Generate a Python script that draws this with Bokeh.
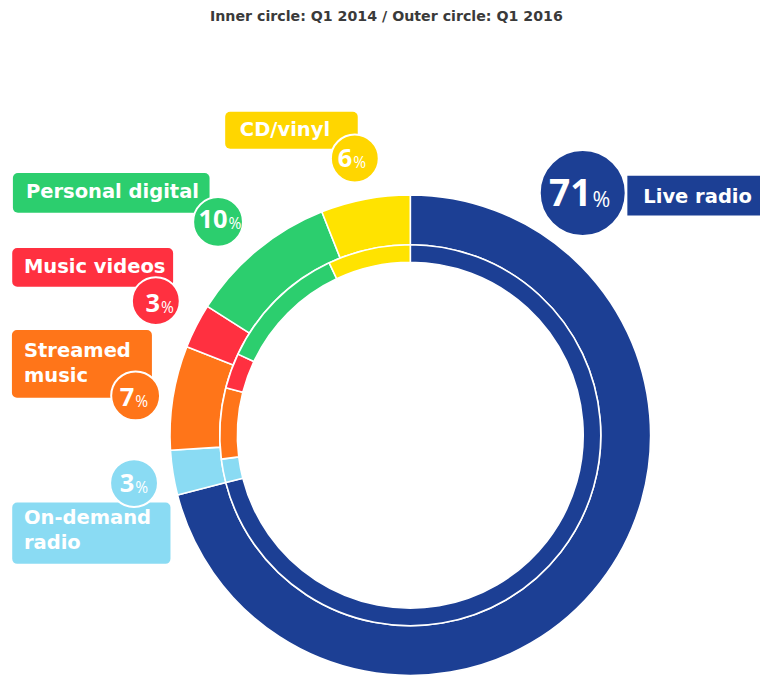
import numpy as np
from bokeh.plotting import figure
from bokeh.models import Range1d, ColumnDataSource
from bokeh.core.properties import value
from bokeh.embed import file_html
from bokeh.resources import INLINE

# ---------------- data ----------------
title_text = "Inner circle: Q1 2014 / Outer circle: Q1 2016"
categories = ["Live radio", "On-demand radio", "Streamed music",
              "Music videos", "Personal digital", "CD/vinyl"]
share_2014 = [71, 2, 6, 3, 11, 7]     # inner ring
share_2016 = [71, 3, 7, 3, 10, 6]     # outer ring (labelled)
label_lines = [["Live radio"], ["On-demand", "radio"], ["Streamed", "music"],
               ["Music videos"], ["Personal digital"], ["CD/vinyl"]]
ring_colors = ["#1C3F94", "#8ADBF3", "#FF7519", "#FF3040", "#2CCE6E", "#FFE300"]
label_colors = ["#1C3F94", "#8ADBF3", "#FF7519", "#FF3040", "#2CCE6E", "#FFD600"]

# ---------------- layout (reference pixels, scaled to fit) ----------------
W, H = 760, 676
S = 676 / 692.0          # uniform scale so the whole chart fits
K = 0.40                 # baseline correction (fraction of font size)

def X(px):
    return S * px

def Y(py):
    return H - S * py

CX, CY = X(419.5), Y(445)
R_HOLE, R_MID, R_OUT = 177 * S, 195 * S, 246 * S

layout = {
    "Live radio": dict(rect=(641.7, 800, 179.3, 220), rc=0, tx=658, base=[208.3],
                       circ=(596, 197, 44), split=605, nbase=211.7, nsize=38, psize=22),
    "CD/vinyl": dict(rect=(230, 365.7, 114, 151.7), rc=5, tx=245, base=[140],
                     circ=(362.7, 161.7, 24.5), split=360, nbase=171.7, nsize=26, psize=16),
    "Personal digital": dict(rect=(12.7, 214, 176.7, 217.3), rc=5, tx=26, base=[203.3],
                             circ=(222.7, 226.7, 25.5), split=232.3, nbase=234, nsize=26, psize=16),
    "Music videos": dict(rect=(12, 176.7, 253.3, 293), rc=5, tx=24, base=[280],
                         circ=(159, 307.7, 24.5), split=163.3, nbase=320, nsize=26, psize=16),
    "Streamed music": dict(rect=(11.7, 155, 337.3, 406.7), rc=5, tx=24, base=[366, 391.7],
                           circ=(138.3, 404.7, 25), split=137, nbase=416.7, nsize=26, psize=16),
    "On-demand radio": dict(rect=(12, 174, 514, 576.7), rc=5, tx=24, base=[537.3, 563.3],
                            circ=(136.7, 494, 24.5), split=137, nbase=504, nsize=26, psize=16),
}

LABEL_FONT = value("DejaVu Sans")
NUM_FONT = value("Open Sans")

p = figure(width=W, height=H, x_range=Range1d(0, W), y_range=Range1d(0, H),
           output_backend="svg", toolbar_location=None, min_border=0)
p.axis.visible = False
p.grid.visible = False
p.outline_line_color = None
p.background_fill_color = "white"
p.border_fill_color = "white"

def TY(py, fs):
    # baseline in reference pixels -> data y, corrected for renderer offset
    return Y(py - K * fs)

# ---------------- rings ----------------
def ring(values, r_in, r_out):
    frac = np.array(values, dtype=float) / float(sum(values))
    c1 = np.cumsum(frac)
    c0 = c1 - frac
    src = ColumnDataSource(dict(start=np.pi / 2 - 2 * np.pi * c1,
                                end=np.pi / 2 - 2 * np.pi * c0,
                                color=ring_colors, name=categories))
    p.annular_wedge(x=CX, y=CY, inner_radius=r_in, outer_radius=r_out,
                    start_angle="start", end_angle="end", fill_color="color",
                    line_color="white", line_width=1.6, source=src)

ring(share_2016, R_MID, R_OUT)
ring(share_2014, R_HOLE, R_MID)

# ---------------- title ----------------
fs_t = 14.5
p.text(x=[X(395)], y=[TY(21.7, fs_t)], text=[title_text], text_font=LABEL_FONT,
       text_font_style="bold", text_font_size=f"{fs_t * S:.1f}px", text_color="#3a3a3a",
       text_align="center", text_baseline="alphabetic")

# ---------------- labels ----------------
fs_l = 20
for cat, lines, col, v in zip(categories, label_lines, label_colors, share_2016):
    L = layout[cat]
    l, r, t, b = L["rect"]
    p.quad(left=[X(l)], right=[X(r)], top=[Y(t)], bottom=[Y(b)], fill_color=col,
           line_color=None, border_radius=L["rc"])
    p.text(x=[X(L["tx"])] * len(lines), y=[TY(bb, fs_l) for bb in L["base"]], text=lines,
           text_font=LABEL_FONT, text_font_style="bold", text_font_size=f"{fs_l * S:.1f}px",
           text_color="white", text_align="left", text_baseline="alphabetic")
    cx, cy, cr = L["circ"]
    p.circle(x=[X(cx)], y=[Y(cy)], radius=cr * S, fill_color=col,
             line_color="white", line_width=2)
    p.text(x=[X(L["split"])], y=[TY(L["nbase"], L["nsize"])], text=[str(v)],
           text_font=NUM_FONT, text_font_style="bold",
           text_font_size=f"{L['nsize'] * S:.1f}px", text_color="white",
           text_align="right", text_baseline="alphabetic")
    p.text(x=[X(L["split"] + 1)], y=[TY(L["nbase"], L["psize"])], text=["%"],
           text_font=NUM_FONT, text_font_style="normal",
           text_font_size=f"{L['psize'] * S:.1f}px", text_color="white",
           text_align="left", text_baseline="alphabetic")

open("out.html", "w").write(file_html(p, INLINE))
